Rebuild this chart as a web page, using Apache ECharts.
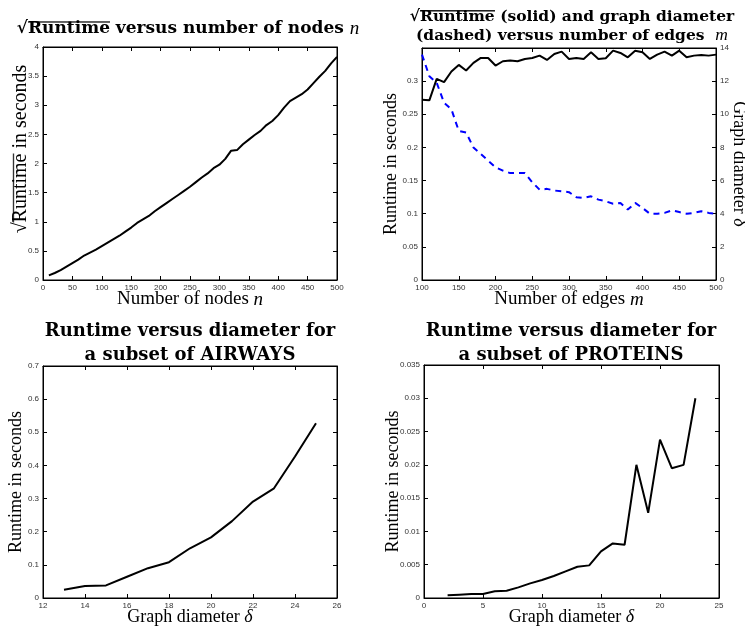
<!DOCTYPE html>
<html>
<head>
<meta charset="utf-8">
<script src="https://cdn.jsdelivr.net/npm/echarts@6/dist/echarts.min.js"></script>
<style>
html, body { margin: 0; padding: 0; background: #fff; }
#main { width: 745px; height: 629px; }
</style>
</head>
<body>
<div id="main"></div>
<script>
// top left: sqrt(runtime) vs number of nodes
var nodesN = [10, 20, 30, 40, 50, 60, 70, 80, 90, 100, 110, 120, 130, 140, 150, 160, 170, 180, 190, 200,
    210, 220, 230, 240, 250, 260, 270, 280, 290, 300, 310, 320, 330, 340, 350, 360, 370, 380, 390, 400,
    410, 420, 430, 440, 450, 460, 470, 480, 490, 500];
var sqrtRuntime = [0.08, 0.12, 0.17, 0.23, 0.29, 0.35, 0.42, 0.47, 0.52, 0.58, 0.64, 0.70, 0.76, 0.83, 0.90, 0.98, 1.04, 1.10, 1.18, 1.25,
    1.32, 1.39, 1.46, 1.53, 1.60, 1.68, 1.76, 1.83, 1.92, 1.98, 2.08, 2.22, 2.23, 2.33, 2.41, 2.49, 2.56, 2.66, 2.73, 2.83,
    2.96, 3.07, 3.13, 3.19, 3.27, 3.38, 3.49, 3.59, 3.72, 3.83];

// top right: runtime (solid) and diameter (dashed) vs number of edges
var edgesM = [100, 110, 120, 130, 140, 150, 160, 170, 180, 190, 200, 210, 220, 230, 240, 250, 260, 270, 280, 290,
    300, 310, 320, 330, 340, 350, 360, 370, 380, 390, 400, 410, 420, 430, 440, 450, 460, 470, 480, 490, 500];
var runtimeEdges = [0.272, 0.271, 0.3035, 0.2985, 0.3145, 0.3245, 0.316, 0.3275, 0.335, 0.335, 0.3235, 0.330, 0.331, 0.330, 0.3335,
    0.335, 0.3385, 0.332, 0.341, 0.3445, 0.3335, 0.335, 0.3335, 0.3435, 0.3335, 0.3345, 0.346, 0.3425, 0.336, 0.346,
    0.3435, 0.3335, 0.340, 0.3445, 0.3385, 0.346, 0.336, 0.3385, 0.3395, 0.3385, 0.340];
var diameterEdges = [13.6, 12.3, 11.9, 10.7, 10.3, 9.0, 8.9, 8.0, 7.6, 7.2, 6.8, 6.6, 6.45, 6.45, 6.45,
    5.9, 5.45, 5.5, 5.4, 5.35, 5.3, 5.0, 4.95, 5.05, 4.85, 4.75, 4.6, 4.65, 4.25, 4.65,
    4.35, 4.0, 4.0, 4.05, 4.2, 4.1, 4.0, 4.05, 4.15, 4.05, 4.0];

// bottom left: AIRWAYS subset
var airwaysDiam = [13, 14, 15, 16, 17, 18, 19, 20, 21, 22, 23, 24, 25];
var airwaysRuntime = [0.025, 0.036, 0.038, 0.064, 0.09, 0.108, 0.15, 0.183, 0.232, 0.291, 0.331, 0.427, 0.527];

// bottom right: PROTEINS subset
var proteinsDiam = [2, 3, 4, 5, 6, 7, 8, 9, 10, 11, 12, 13, 14, 15, 16, 17, 18, 19, 20, 21, 22, 23];
var proteinsRuntime = [0.0004, 0.0005, 0.0006, 0.0006, 0.001, 0.0011, 0.0016, 0.0022, 0.0027, 0.0033, 0.004,
    0.0047, 0.0049, 0.007, 0.0082, 0.008, 0.02, 0.0128, 0.0238, 0.0195, 0.02, 0.03];

function pairs(xs, ys) {
    return xs.map(function (x, i) { return [x, ys[i]]; });
}

// little image with a line at its top, stretched behind "Runtime" as the sqrt bar
function overImg(h, y, t) {
    var c = document.createElement('canvas');
    c.width = 8;
    c.height = h;
    var ctx = c.getContext('2d');
    ctx.fillStyle = '#000';
    ctx.fillRect(0, y, 8, t);
    return c;
}

var tickFont = 'Liberation Sans';
var serif = 'Liberation Serif';
var titleFont = 'DejaVu Serif';

function axis(gridIndex, pos, min, max, interval, labels) {
    return {
        type: 'value',
        gridIndex: gridIndex,
        position: pos,
        min: min,
        max: max,
        interval: interval,
        axisLine: { show: true, onZero: false, lineStyle: { color: '#000', width: 1 } },
        axisTick: { show: true, inside: true, length: 4, lineStyle: { color: '#000', width: 1 } },
        axisLabel: labels ? {
            show: true, margin: 4, fontFamily: tickFont, fontSize: 8, color: '#333',
            showMinLabel: true, showMaxLabel: true
        } : { show: false },
        splitLine: { show: false }
    };
}

function named(ax, name, gap, size, rotate) {
    ax.name = name;
    ax.nameLocation = 'middle';
    ax.nameGap = gap;
    ax.nameMoveOverlap = false;
    if (rotate != null) ax.nameRotate = rotate;
    ax.nameTextStyle = {
        fontFamily: serif, fontSize: size, color: '#000',
        rich: { i: { fontFamily: serif, fontSize: size, fontStyle: 'italic', color: '#000' } }
    };
    return ax;
}

function title(text, left, top, size, lh) {
    return {
        text: text,
        left: left,
        top: top,
        textAlign: 'center',
        textStyle: {
            fontFamily: titleFont, fontWeight: 'bold', fontSize: size, color: '#000', lineHeight: lh,
            rich: {
                i: { fontFamily: serif, fontStyle: 'italic', fontWeight: 'normal', fontSize: size + 2, color: '#000', lineHeight: lh },
                o: {
                    fontFamily: titleFont, fontWeight: 'bold', fontSize: size, color: '#000', lineHeight: lh,
                    backgroundColor: { image: overImg(lh, 1, 1.5) }
                }
            }
        }
    };
}

var xAxes = [
    named(axis(0, 'bottom', 0, 500, 50, true), 'Number of nodes {i|n}', 10, 19),
    axis(0, 'top', 0, 500, 50, false),
    named(axis(1, 'bottom', 100, 500, 50, true), 'Number of edges {i|m}', 10, 19),
    axis(1, 'top', 100, 500, 50, false),
    named(axis(2, 'bottom', 12, 26, 2, true), 'Graph diameter {i|δ}', 10, 18),
    axis(2, 'top', 12, 26, 2, false),
    named(axis(3, 'bottom', 0, 25, 5, true), 'Graph diameter {i|δ}', 10, 18),
    axis(3, 'top', 0, 25, 5, false)
];

var sqrtLeft = named(axis(0, 'left', 0, 4, 0.5, true), '√{o|Runtime} in seconds', 11, 20);
sqrtLeft.nameTextStyle.padding = [0, 0, 0, 29];
sqrtLeft.nameTextStyle.rich.o = {
    fontFamily: serif, fontSize: 20, color: '#000', lineHeight: 22,
    backgroundColor: { image: overImg(22, 2, 1.2) }
};

var runtimeLeft = named(axis(1, 'left', 0, 0.35, 0.05, true), 'Runtime in seconds', 22, 18);
runtimeLeft.axisLabel.formatter = function (v) { return v >= 0.349 ? '' : String(v); };
var diamRight = named(axis(1, 'right', 0, 14, 2, true), 'Graph diameter {i|δ}', 14, 18, -90);

var yAxes = [
    sqrtLeft,
    axis(0, 'right', 0, 4, 0.5, false),
    runtimeLeft,
    diamRight,
    named(axis(2, 'left', 0, 0.7, 0.1, true), 'Runtime in seconds', 18, 18),
    axis(2, 'right', 0, 0.7, 0.1, false),
    named(axis(3, 'left', 0, 0.035, 0.005, true), 'Runtime in seconds', 22, 18),
    axis(3, 'right', 0, 0.035, 0.005, false)
];

var lineStyle = { color: '#000', width: 2 };

var chart = echarts.init(document.getElementById('main'));
var option = {
    backgroundColor: '#fff',
    animation: false,
    title: [
        title('√{o|Runtime} versus number of nodes {i|n}', 183, 14, 17, 20),
        title('√{o|Runtime} (solid) and graph diameter\n(dashed) versus number of edges  {i|m}', 567, 3, 15.5, 18.5),
        title('Runtime versus diameter for\na subset of AIRWAYS', 185, 314, 18, 24),
        title('Runtime versus diameter for\na subset of PROTEINS', 566, 314, 18, 24)
    ],
    grid: [
        { left: 43, top: 47, width: 294, height: 233, show: true, borderColor: '#000', borderWidth: 1, outerBoundsMode: 'none' },
        { left: 422, top: 48, width: 294, height: 232, show: true, borderColor: '#000', borderWidth: 1, outerBoundsMode: 'none' },
        { left: 43, top: 366, width: 294, height: 232, show: true, borderColor: '#000', borderWidth: 1, outerBoundsMode: 'none' },
        { left: 424, top: 365, width: 295, height: 233, show: true, borderColor: '#000', borderWidth: 1, outerBoundsMode: 'none' }
    ],
    xAxis: xAxes,
    yAxis: yAxes,
    series: [
        {
            type: 'line', xAxisIndex: 0, yAxisIndex: 0, showSymbol: false, symbol: 'none',
            lineStyle: lineStyle, data: pairs(nodesN, sqrtRuntime)
        },
        {
            type: 'line', xAxisIndex: 2, yAxisIndex: 2, showSymbol: false, symbol: 'none',
            lineStyle: lineStyle, data: pairs(edgesM, runtimeEdges)
        },
        {
            type: 'line', xAxisIndex: 2, yAxisIndex: 3, showSymbol: false, symbol: 'none',
            lineStyle: { color: '#0000ff', width: 2, type: [6, 5] }, data: pairs(edgesM, diameterEdges)
        },
        {
            type: 'line', xAxisIndex: 4, yAxisIndex: 4, showSymbol: false, symbol: 'none',
            lineStyle: lineStyle, data: pairs(airwaysDiam, airwaysRuntime)
        },
        {
            type: 'line', xAxisIndex: 6, yAxisIndex: 6, showSymbol: false, symbol: 'none',
            lineStyle: lineStyle, data: pairs(proteinsDiam, proteinsRuntime)
        }
    ]
};
chart.setOption(option);
</script>
</body>
</html>
